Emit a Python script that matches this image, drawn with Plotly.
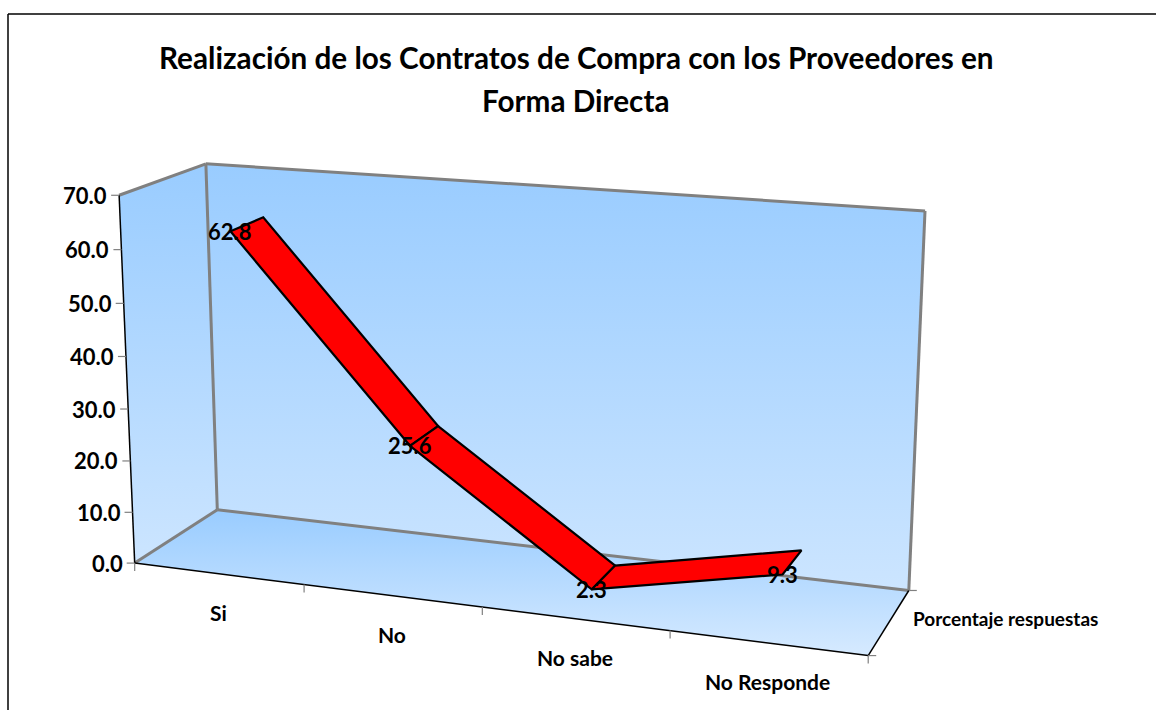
import numpy as np
import plotly.graph_objects as go

categories = ["Si", "No", "No sabe", "No Responde"]
values = [62.8, 25.6, 2.3, 9.3]
value_ticks = [0, 10, 20, 30, 40, 50, 60, 70]
series_name = "Porcentaje respuestas"
title_lines = ["Realización de los Contratos de Compra con los Proveedores en", "Forma Directa"]

VMAX = 70.0
NCAT = len(categories)
D0, D1 = 0.27, 0.67
FONT = "Lato"

# Perspective camera of the 3-D box, fitted on its corners: (cat, value, depth) -> (px, py)
corners = [
    ((0, 0, 0), (135, 563)), ((0, 1, 0), (119, 195)), ((0, 0, 1), (217, 510)), ((0, 1, 1), (206, 164)),
    ((1, 0, 0), (868, 656)), ((1, 0, 1), (909, 590)), ((1, 1, 1), (925, 211)),
]
A, b = [], []
for (X, Y, Z), (u, v) in corners:
    A.append([X, Y, Z, 1, 0, 0, 0, 0, -u * X, -u * Y, -u * Z]); b.append(u)
    A.append([0, 0, 0, 0, X, Y, Z, 1, -v * X, -v * Y, -v * Z]); b.append(v)
p = np.linalg.lstsq(np.array(A, float), np.array(b, float), rcond=None)[0]
P = np.append(p, 1).reshape(3, 4)


def proj(cat, val, depth):
    h = P @ np.array([cat / NCAT, val / VMAX, depth, 1.0])
    return float(h[0] / h[2]), float(h[1] / h[2])


def poly(pts, **kw):
    xs, ys = zip(*(pts + pts[:1]))
    return go.Scatter(x=xs, y=ys, mode="lines", hoverinfo="skip", showlegend=False, **kw)


def seg(a, b, color, width):
    return go.Scatter(x=[a[0], b[0]], y=[a[1], b[1]], mode="lines", hoverinfo="skip", showlegend=False,
                      line=dict(color=color, width=width))


def grad_poly(pts, c0, c1):
    ys = [q[1] for q in pts]
    return poly(pts, fill="toself", line=dict(width=0),
                fillgradient=dict(type="vertical", colorscale=[[0, c0], [1, c1]], start=min(ys), stop=max(ys)))


fig = go.Figure()
n = NCAT
blf, tlf, blb, tlb = proj(0, 0, 0), proj(0, VMAX, 0), proj(0, 0, 1), proj(0, VMAX, 1)
brf, brb, trb = proj(n, 0, 0), proj(n, 0, 1), proj(n, VMAX, 1)

WALL_TOP, WALL_BOT = "#99CCFF", "#CCE5FF"
for tr in [grad_poly([tlb, trb, brb, blb], WALL_TOP, WALL_BOT),
           grad_poly([tlf, tlb, blb, blf], WALL_TOP, WALL_BOT),
           grad_poly([blb, brb, brf, blf], WALL_TOP, "#D6EAFF")]:
    fig.add_trace(tr)

GRAY = "#808080"
for a, b_ in [(tlf, tlb), (tlb, trb), (trb, brb), (tlb, blb), (blb, brb), (blf, blb)]:
    fig.add_trace(seg(a, b_, GRAY, 3))

# axes and ticks
for a, b_ in [(blf, tlf), (blf, brf), (brf, brb)]:
    fig.add_trace(seg(a, b_, "#000000", 1.5))
for v in value_ticks:
    q = proj(0, v, 0)
    fig.add_trace(seg((q[0] - 8, q[1]), q, GRAY, 1.2))
    fig.add_annotation(x=q[0] - 10, y=q[1], text=f"{v:.1f}", xanchor="right", yanchor="middle", showarrow=False,
                       font=dict(family=FONT, size=22, color="#000000", weight="bold"))
for i in range(n + 1):
    q = proj(i, 0, 0)
    fig.add_trace(seg(q, (q[0], q[1] + 8), GRAY, 1.2))
for q in (brf, brb):
    fig.add_trace(seg((q[0], q[1]), (q[0] + 8, q[1]), GRAY, 1.2))

for i, c in enumerate(categories):
    q = proj(i + 0.5, 0, 0)
    fig.add_annotation(x=q[0], y=q[1] + 39, text=c, xanchor="center", yanchor="middle", showarrow=False,
                       font=dict(family=FONT, size=21, color="#000000", weight="bold"))
q = proj(n, 0, 0.5)
fig.add_annotation(x=q[0] + 22, y=q[1] - 3, text=series_name, xanchor="left", yanchor="middle", showarrow=False,
                   font=dict(family=FONT, size=19, color="#000000", weight="bold"))

# ribbon
for i in range(n - 1):
    pts = [proj(i + 0.5, values[i], D0), proj(i + 0.5, values[i], D1),
           proj(i + 1.5, values[i + 1], D1), proj(i + 1.5, values[i + 1], D0)]
    fig.add_trace(poly(pts, fill="toself", fillcolor="#FF0000", line=dict(color="#000000", width=2.2)))

for i, val in enumerate(values):
    q = proj(i + 0.5, val, D0)
    fig.add_annotation(x=q[0], y=q[1], text=f"{val:.1f}", xanchor="center", yanchor="middle", showarrow=False,
                       font=dict(family=FONT, size=22, color="#000000", weight="bold"))

for line, y in zip(title_lines, (57, 100)):
    fig.add_annotation(x=576, y=y, text=line, xanchor="center", yanchor="middle", showarrow=False,
                       font=dict(family=FONT, size=29.7, color="#000000", weight="bold"))

# chart frame
fig.add_trace(seg((8, 710), (8, 14), "#000000", 1.5))
fig.add_trace(seg((8, 14), (1156, 14), "#000000", 1.5))

fig.update_layout(width=1156, height=710, margin=dict(l=0, r=0, t=0, b=0), paper_bgcolor="#FFFFFF",
                  plot_bgcolor="#FFFFFF", showlegend=False,
                  xaxis=dict(range=[0, 1156], visible=False, fixedrange=True),
                  yaxis=dict(range=[710, 0], visible=False, fixedrange=True))
fig.write_html("out.html", config={"displayModeBar": False},
               post_script="document.body.style.margin='0';document.body.style.overflow='hidden';")
